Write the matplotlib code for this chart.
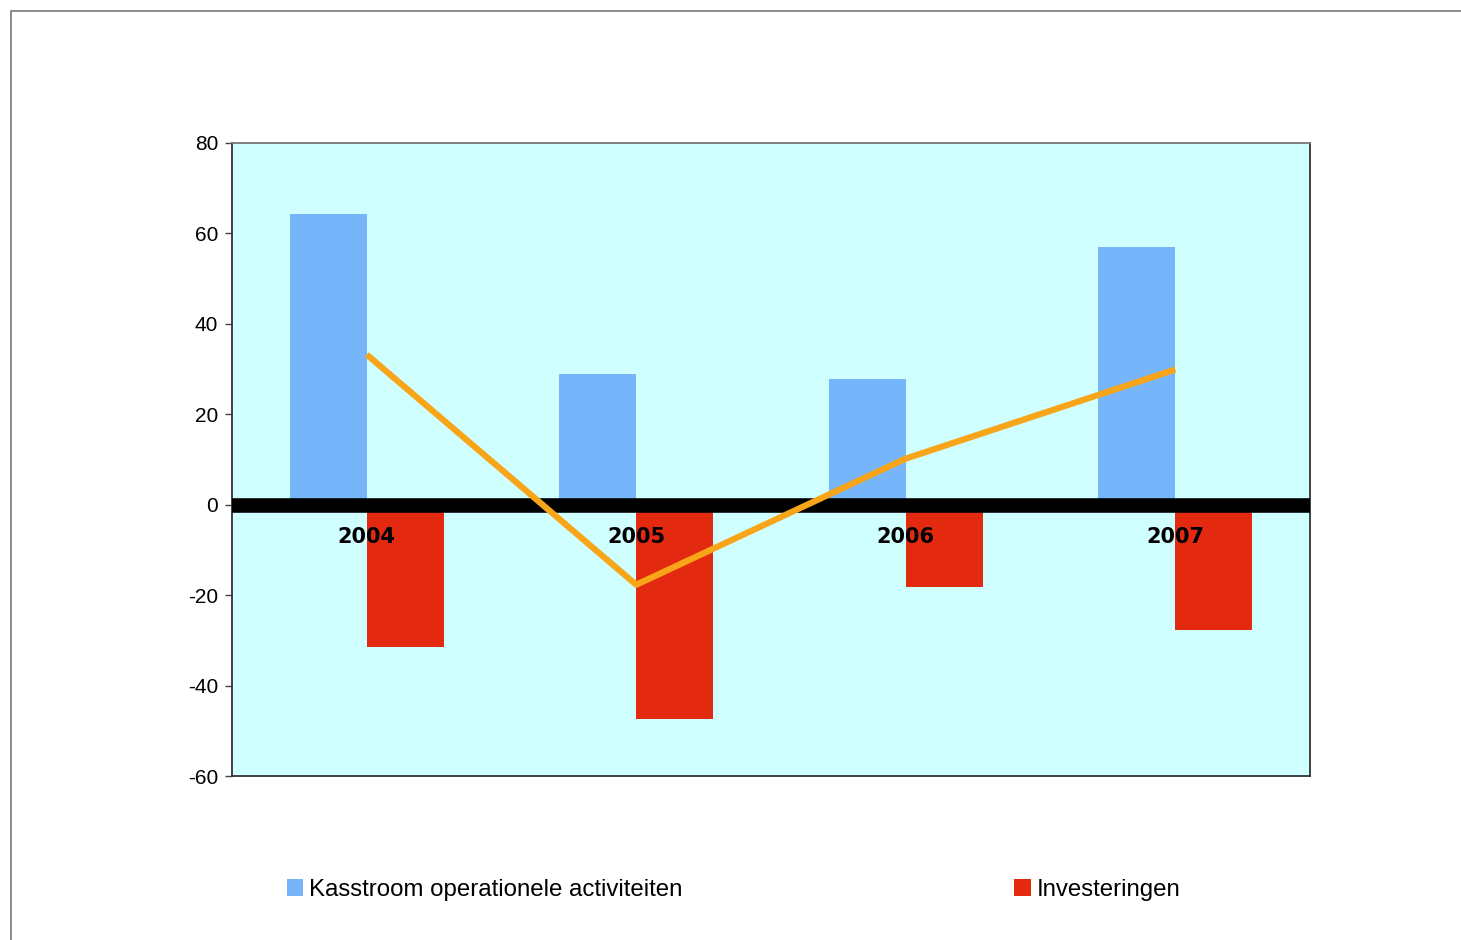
import matplotlib.pyplot as plt
import numpy as np
from matplotlib.patches import Rectangle, Patch

# data
years = ["2004", "2005", "2006", "2007"]
kasstroom = [64.2, 29.0, 27.7, 57.1]
investeringen = [-31.4, -47.3, -18.1, -27.7]
vrije_kasstroom = [33.2, -17.7, 10.2, 29.9]
y_ticks = [-60, -40, -20, 0, 20, 40, 60, 80]

blue = "#77B5FA"
red = "#E32A10"
orange = "#F8A51A"
bg = "#D0FFFF"

plt.rcParams['font.family'] = ['Liberation Sans', 'DejaVu Sans']

fig = plt.figure(figsize=(14.61, 9.40), dpi=100)
W, H = 1461, 940

# outer frame
fig.patches.append(Rectangle((11 / W, -0.1), 1.2, 1 - 11 / H + 0.1, transform=fig.transFigure,
                             fill=False, edgecolor="#777777", lw=1.2))

ax = fig.add_axes([232 / W, (H - 776) / H, 1078 / W, 633 / H])
ax.set_facecolor(bg)

x = np.arange(len(years))
w = 0.286
ax.bar(x - w / 2, kasstroom, width=w, color=blue, zorder=2)
ax.bar(x + w / 2, investeringen, width=w, color=red, zorder=2)
ax.axhline(0, color="black", lw=10.5, zorder=3)
ax.plot(x, vrije_kasstroom, color=orange, lw=4.5, zorder=4, solid_capstyle="butt")

for i, yr in enumerate(years):
    ax.annotate(yr, xy=(i, 0), xytext=(0, -23.5), textcoords="offset points",
                ha="center", va="center", fontsize=15, fontweight="bold",
                family="DejaVu Sans", zorder=5)

ax.set_xlim(-0.5, 3.5)
ax.set_ylim(-60, 80)
ax.set_yticks(y_ticks)
ax.set_yticklabels([str(t) for t in y_ticks], fontsize=15)
ax.set_xticks([])
ax.tick_params(axis="y", direction="out", length=5, width=1, color="#444444", pad=5)
for s in ["left", "bottom", "right"]:
    ax.spines[s].set_color("#333333")
    ax.spines[s].set_linewidth(1.3)
ax.spines["top"].set_color("#777777")
ax.spines["top"].set_linewidth(1.3)

handles = [Patch(facecolor=blue, edgecolor="none"), Patch(facecolor=red, edgecolor="none")]
fig.legend(handles, ["Kasstroom operationele activiteiten", "Investeringen"],
           ncol=2, frameon=False, fontsize=17.3, handlelength=0.7, handleheight=0.7,
           handletextpad=0.25, columnspacing=13.8,
           loc="center left", bbox_to_anchor=(265 / W, 1 - 890 / H))

fig.savefig("out.png", dpi=100)
